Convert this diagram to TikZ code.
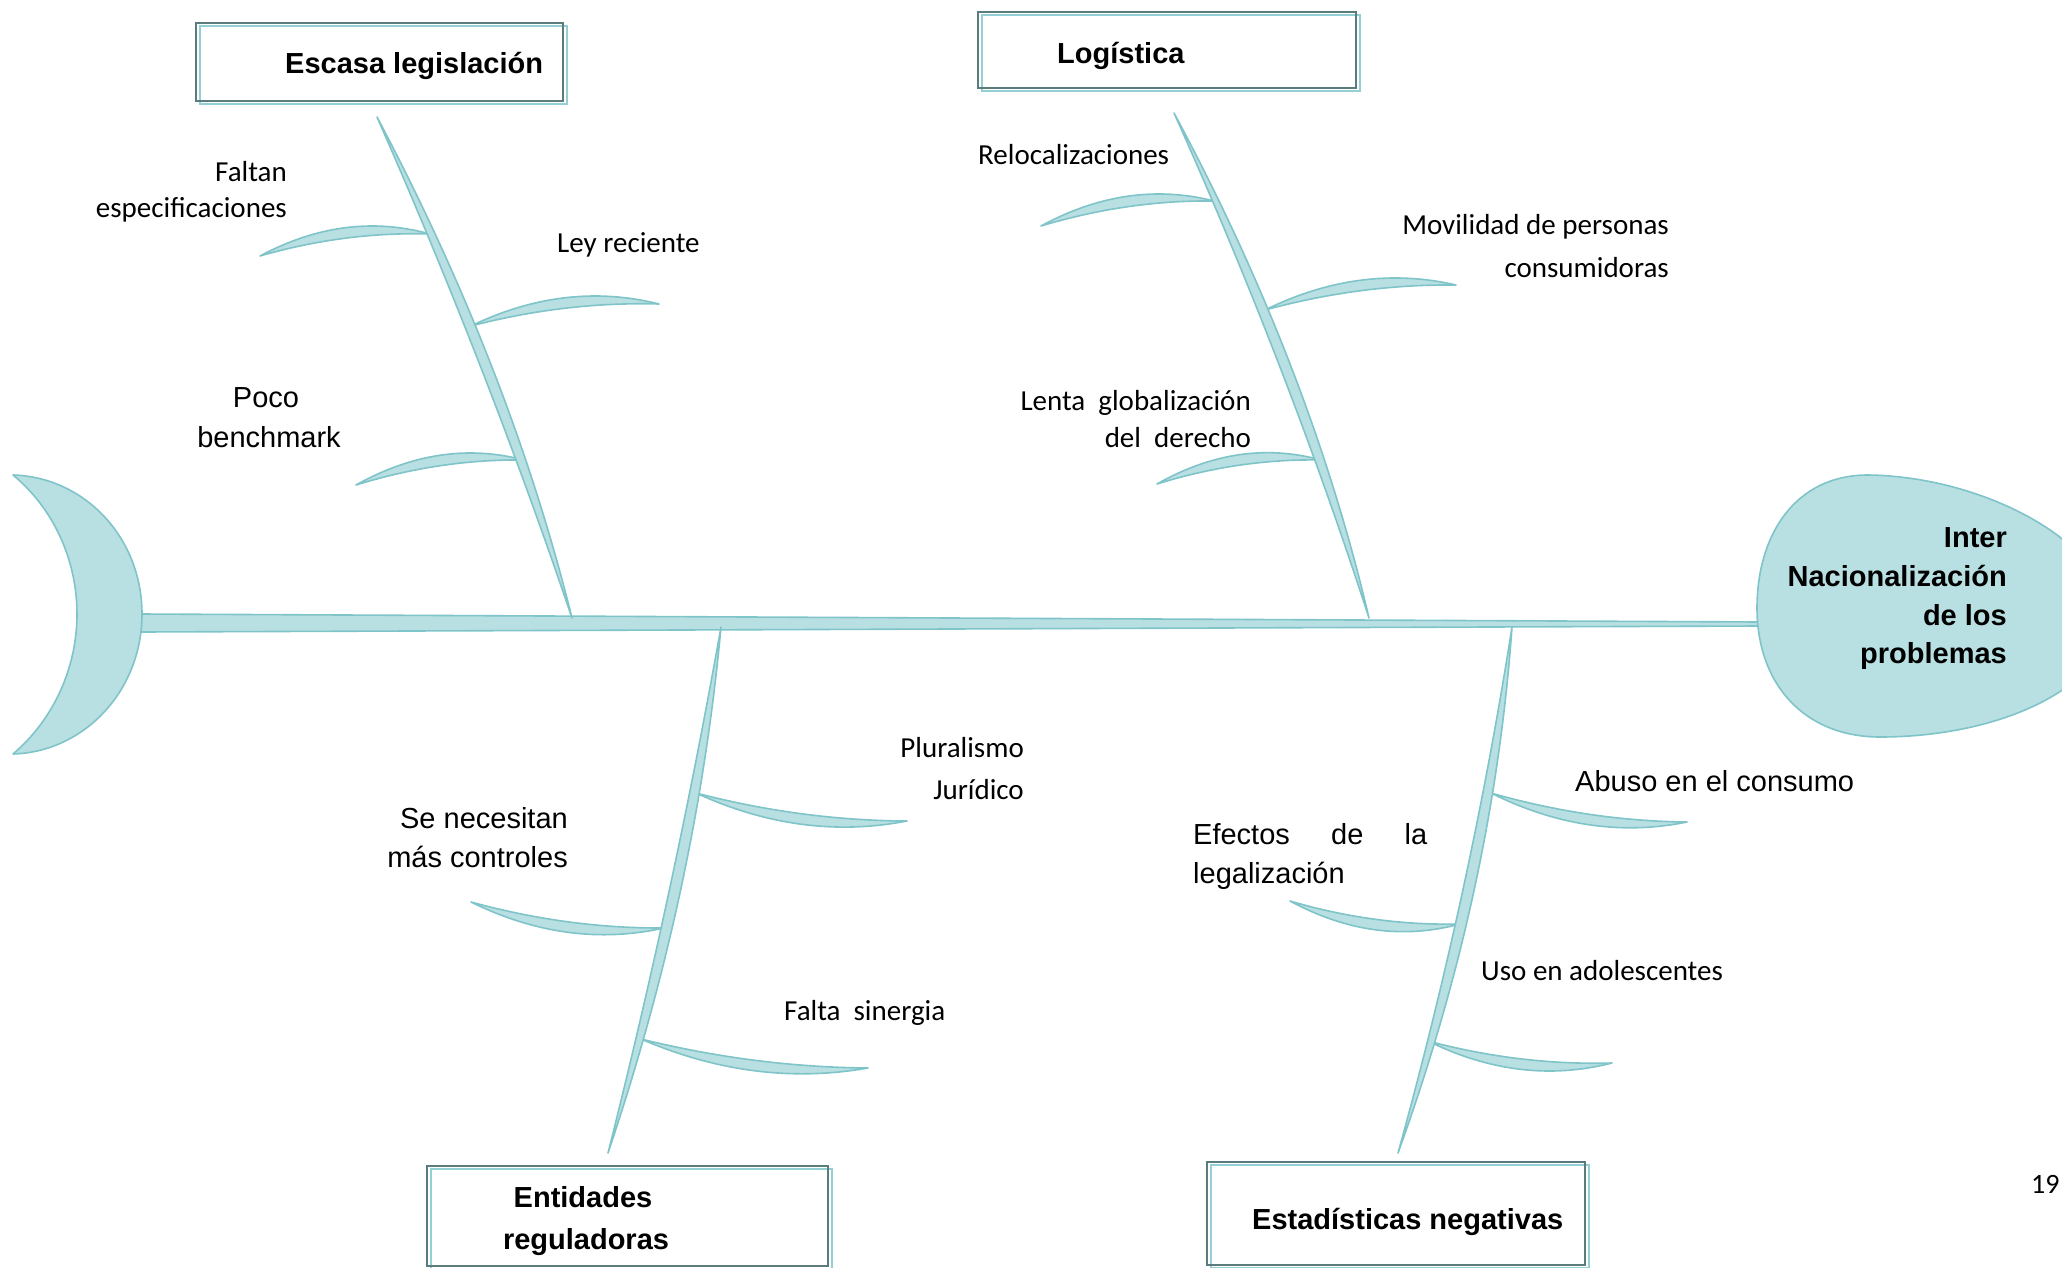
\documentclass[tikz,border=0pt]{standalone}
\usepackage{fontspec}
\setmainfont{Liberation Sans}
\newfontfamily\carlitof{Carlito}
\newfontfamily\arialf{Liberation Sans}
\usetikzlibrary{calc}
\definecolor{bonefill}{HTML}{B8DFE2}
\definecolor{bonedraw}{HTML}{7FC4C9}
\definecolor{boxdark}{HTML}{5C7B7D}
\definecolor{boxteal}{HTML}{93CFD4}
\newcommand\lens[5]{%
  \filldraw[bone] (#1) .. controls ($(#1)!0.333!(#2)+#3+#5$) and ($(#1)!0.667!(#2)+#4+#5$) .. (#2)
    .. controls ($(#1)!0.667!(#2)+#4-#5$) and ($(#1)!0.333!(#2)+#3-#5$) .. (#1) -- cycle;}
\begin{document}
\begin{tikzpicture}[x=1pt,y=-1pt,
  bone/.style={fill=bonefill,draw=bonedraw,line width=1.6pt,line join=round},
  lblc/.style={font=\carlitof\fontsize{29}{35}\selectfont,inner sep=0pt},
  lbla/.style={font=\arialf\fontsize{29}{35}\selectfont,inner sep=0pt},
  lblb/.style={font=\arialf\bfseries\fontsize{29}{35}\selectfont,inner sep=0pt},
  darkbox/.style={draw=boxdark,line width=2.2pt},
  tealbox/.style={draw=boxteal,line width=2.6pt}]
\useasboundingbox (0,0) rectangle (2062,1268);
\clip (0,0) rectangle (2062,1268);

% ---------- coordinates ----------
\coordinate (spL1) at (141,614); \coordinate (spL2) at (141,632);
\coordinate (spR1) at (1760,622); \coordinate (spR2) at (1760,626);
\coordinate (b1t) at (377,117);  \coordinate (b1b) at (572,618);
\coordinate (b2t) at (1174,113); \coordinate (b2b) at (1369,618);
\coordinate (b3t) at (721,627);  \coordinate (b3b) at (608,1153);
\coordinate (b4t) at (1512,627); \coordinate (b4b) at (1398,1153);

% ---------- spine ----------
\filldraw[bone] (spL1) -- (spR1) -- (spR2) -- (spL2) -- cycle;

% ---------- tail (crescent) ----------
\coordinate (tT) at (13,475); \coordinate (tB) at (13,754);
\coordinate (tO) at (142,614); \coordinate (tI) at (77,614);
\filldraw[bone] (tT) .. controls (84,477) and (142,537) .. (tO)
  .. controls (142,691) and (84,752) .. (tB)
  .. controls (53.8,719.3) and (77,667.6) .. (tI)
  .. controls (77,560.4) and (53.8,508.7) .. (tT) -- cycle;

% ---------- head ----------
\coordinate (hT) at (1868,475); \coordinate (hL) at (1757,608);
\coordinate (hB) at (1880,737); \coordinate (hR1) at (2085,560);
\coordinate (hR2) at (2085,672);
\filldraw[bone] (hT) .. controls (1795,475) and (1757,535) .. (hL)
  .. controls (1757,685) and (1805,737) .. (hB)
  .. controls (1960,737) and (2040,715) .. (hR2)
  .. controls (2112,645) and (2112,590) .. (hR1)
  .. controls (2040,510) and (1950,476) .. (hT) -- cycle;

% ---------- ribs ----------
\lens{260,256}{430,234}{(0,-16)}{(0,-16)}{(0,7)}
\lens{471,326}{659,304}{(0,-16)}{(0,-16)}{(0,7)}
\lens{356,485}{524,460}{(0,-16)}{(0,-16)}{(0,7)}
\lens{1041,226}{1214,201}{(0,-16)}{(0,-16)}{(0,7)}
\lens{1265,310}{1456,285}{(0,-16)}{(0,-16)}{(0,7)}
\lens{1157,484}{1321,460}{(0,-16)}{(0,-16)}{(0,7)}
\lens{696,793}{907,821}{(0,16)}{(0,16)}{(0,7)}
\lens{471,902}{664,928}{(0,16)}{(0,16)}{(0,7)}
\lens{641,1039}{868,1068}{(0,16)}{(0,16)}{(0,7)}
\lens{1491,793}{1687,822}{(0,16)}{(0,16)}{(0,7)}
\lens{1290,901}{1460,924}{(0,16)}{(0,16)}{(0,7)}
\lens{1428,1041}{1612,1063}{(0,16)}{(0,16)}{(0,7)}

% ---------- main bones ----------
\lens{b1t}{b1b}{(16,0)}{(16,0)}{(7.5,0)}
\lens{b2t}{b2b}{(18,0)}{(18,0)}{(7.5,0)}
\lens{b3t}{b3b}{(14,0)}{(14,0)}{(7.5,0)}
\lens{b4t}{b4b}{(18,0)}{(18,0)}{(7.5,0)}

% ---------- category boxes ----------
\coordinate (k1a) at (196,23);   \coordinate (k1b) at (563,101);
\coordinate (k2a) at (978,12);   \coordinate (k2b) at (1356,88);
\coordinate (k3a) at (427,1166); \coordinate (k3b) at (828,1266);
\coordinate (k4a) at (1207,1162);\coordinate (k4b) at (1585,1265);
\foreach \a/\b in {k1a/k1b,k2a/k2b,k3a/k3b,k4a/k4b}{
  \draw[tealbox] ($(\a)+(4,3)$) rectangle ($(\b)+(4,3)$);
  \draw[darkbox] (\a) rectangle (\b);
}
\node[lblb,anchor=base west] (cat1) at (285,74) {Escasa legislación};
\node[lblb,anchor=base west] (cat2) at (1057,64) {Logística};
\node[lblb,anchor=base] (cat3a) at (583,1207) {Entidades};
\node[lblb,anchor=base] (cat3b) at (586,1249) {reguladoras};
\node[lblb,anchor=base west] (cat4) at (1252,1229) {Estadísticas negativas};

% ---------- head text ----------
\node[lblb,anchor=base east] (h1) at (2007,547) {Inter};
\node[lblb,anchor=base east] (h2) at (2007,586) {Nacionalización};
\node[lblb,anchor=base east] (h3) at (2007,625) {de los};
\node[lblb,anchor=base east] (h4) at (2007,663) {problemas};

% ---------- cause labels ----------
\node[lblc,anchor=base east] (t1a) at (287,182) {Faltan};
\node[lblc,anchor=base east] (t1b) at (287,218) {especificaciones};
\node[lblc,anchor=base west] (t2) at (557,252) {Ley reciente};
\node[lbla,anchor=base] (t3a) at (266,407) {Poco};
\node[lbla,anchor=base] (t3b) at (269,447) {benchmark};
\node[lblc,anchor=base west] (t4) at (978,165) {Relocalizaciones};
\node[lblc,anchor=base east] (t5a) at (1669,235) {Movilidad de personas};
\node[lblc,anchor=base east] (t5b) at (1669,277) {consumidoras};
\node[lblc,anchor=base east] (t6a) at (1251,410) {Lenta\ \ globalización};
\node[lblc,anchor=base east] (t6b) at (1251,447) {del\ \ derecho};
\node[lblc,anchor=base east] (t7a) at (1024,757) {Pluralismo};
\node[lblc,anchor=base east] (t7b) at (1024,799) {Jurídico};
\node[lbla,anchor=base east] (t8a) at (568,828) {Se necesitan};
\node[lbla,anchor=base east] (t8b) at (568,867) {más controles};
\node[lblc,anchor=base west] (t9) at (784,1020) {Falta\ \ sinergia};
\node[lbla,anchor=base west] (t10) at (1575,791) {Abuso en el consumo};
\node[lbla,anchor=base west] (t11a) at (1193,844) {\makebox[234pt][s]{Efectos de la}};
\node[lbla,anchor=base west] (t11b) at (1193,883) {legalización};
\node[lblc,anchor=base west] (t12) at (1481,980) {Uso en adolescentes};
\node[lblc,anchor=base west,font=\carlitof\fontsize{28}{34}\selectfont] (pg) at (2031,1193) {19};
\end{tikzpicture}
\end{document}
